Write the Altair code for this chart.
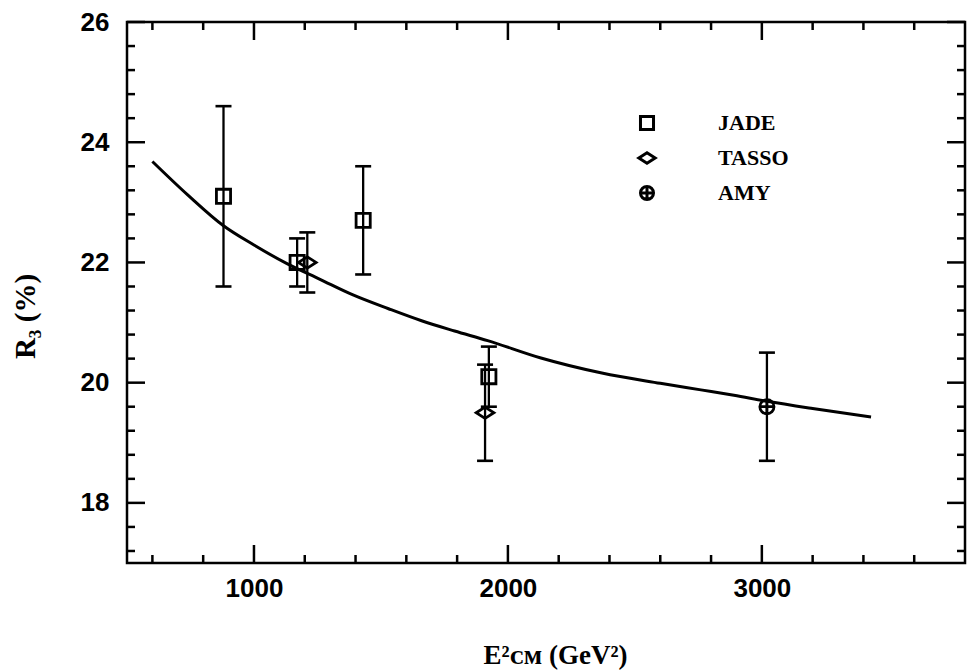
import altair as alt
import pandas as pd

# Curve
curve_x = [600, 740, 880, 1000, 1130, 1260, 1390, 1530, 1660, 1790, 1920, 2130, 2370, 2600, 2760, 2890, 3020, 3200, 3430]
curve_y = [23.68, 23.12, 22.61, 22.29, 21.98, 21.72, 21.46, 21.23, 21.03, 20.86, 20.70, 20.41, 20.16, 19.99, 19.88, 19.79, 19.69, 19.57, 19.43]

# Measurements
exp_names = ["JADE", "JADE", "TASSO", "JADE", "JADE", "TASSO", "AMY"]
exp_x = [880, 1170, 1210, 1430, 1925, 1910, 3020]
exp_y = [23.1, 22.0, 22.0, 22.7, 20.1, 19.5, 19.6]
exp_lo = [21.6, 21.6, 21.5, 21.8, 19.6, 18.7, 18.7]
exp_hi = [24.6, 22.4, 22.5, 23.6, 20.6, 20.3, 20.5]

legend_order = ["JADE", "TASSO", "AMY"]

x_major = [1000, 2000, 3000]
x_minor = [600, 800, 1200, 1400, 1600, 1800, 2200, 2400, 2600, 2800, 3200, 3400, 3600]
y_major = [18, 20, 22, 24, 26]
y_minor = [17.2, 17.6, 18.4, 18.8, 19.2, 19.6, 20.4, 20.8, 21.2, 21.6,
           22.4, 22.8, 23.2, 23.6, 24.4, 24.8, 25.2, 25.6]

W, H = 838, 541
MAJ, MIN = 18, 8

curve = pd.DataFrame({"x": curve_x, "y": curve_y})
pts = pd.DataFrame({"exp": exp_names, "x": exp_x, "y": exp_y, "lo": exp_lo, "hi": exp_hi})
xmaj = pd.DataFrame({"x": x_major})
xmin = pd.DataFrame({"x": x_minor})
ymaj = pd.DataFrame({"y": y_major})
ymin = pd.DataFrame({"y": y_minor})

xs = alt.Scale(domain=[500, 3800], nice=False, zero=False)
ys = alt.Scale(domain=[17, 26], nice=False, zero=False)

TICK_FONT = "Liberation Sans"
SERIF = "Liberation Serif"

# main curve with labelled axes
line = alt.Chart(curve).mark_line(color="black", strokeWidth=3, interpolate="monotone").encode(
    x=alt.X("x:Q", scale=xs, axis=alt.Axis(
        orient="bottom", values=x_major, format="d", ticks=False, tickSize=0, domain=False, grid=False,
        labelFont=TICK_FONT, labelFontSize=26, labelFontWeight="bold", labelColor="black",
        labelPadding=12,
        title="E²ᴄᴍ (GeV²)", titleFont=SERIF, titleFontSize=27, titleFontWeight="bold",
        titleColor="black", titleX=428, titleY=100, titleAlign="center", titleBaseline="alphabetic")),
    y=alt.Y("y:Q", scale=ys, axis=alt.Axis(
        orient="left", values=y_major, format="d", ticks=False, tickSize=0, domain=False, grid=False,
        labelFont=TICK_FONT, labelFontSize=26, labelFontWeight="bold", labelColor="black",
        labelPadding=18,
        title="R₃ (%)", titleFont=SERIF, titleFontSize=29, titleFontWeight="bold",
        titleColor="black", titleX=-102, titleY=294, titleAngle=-90, titleAlign="center",
        titleBaseline="middle")),
)


def xticks(df, y0, y1):
    return alt.Chart(df).mark_rule(color="black", strokeWidth=2.5).encode(
        x=alt.X("x:Q", scale=xs),
        y=alt.value(y0), y2=alt.value(y1),
    )


def yticks(df, x0, x1):
    return alt.Chart(df).mark_rule(color="black", strokeWidth=2.5).encode(
        y=alt.Y("y:Q", scale=ys),
        x=alt.value(x0), x2=alt.value(x1),
    )


ticks = [
    xticks(xmaj, H, H - MAJ), xticks(xmin, H, H - MIN),
    xticks(xmaj, 0, MAJ), xticks(xmin, 0, MIN),
    yticks(ymaj, 0, MAJ), yticks(ymin, 0, MIN),
    yticks(ymaj, W, W - MAJ), yticks(ymin, W, W - MIN),
]

bars = alt.Chart(pts).mark_rule(color="black", strokeWidth=2.3, opacity=1).encode(
    x=alt.X("x:Q", scale=xs),
    y=alt.Y("lo:Q", scale=ys),
    y2="hi:Q",
)
cap_lo = alt.Chart(pts).mark_tick(color="black", orient="horizontal", size=16, thickness=2.6, opacity=1).encode(
    x=alt.X("x:Q", scale=xs),
    y=alt.Y("lo:Q", scale=ys),
)
cap_hi = alt.Chart(pts).mark_tick(color="black", orient="horizontal", size=16, thickness=2.6, opacity=1).encode(
    x=alt.X("x:Q", scale=xs),
    y=alt.Y("hi:Q", scale=ys),
)

square_path = "square"
diamond_path = "M-1.25,0L0,-0.8L1.25,0L0,0.8Z"
amy_path = "M-1,0A1,1,0,1,1,1,0A1,1,0,1,1,-1,0ZM-1,0L1,0M0,-1L0,1"

points = alt.Chart(pts).mark_point(filled=False, color="black", strokeWidth=2.8, size=200, opacity=1).encode(
    x=alt.X("x:Q", scale=xs),
    y=alt.Y("y:Q", scale=ys),
    shape=alt.Shape("exp:N", scale=alt.Scale(domain=legend_order,
                                              range=[square_path, diamond_path, amy_path]),
                    legend=alt.Legend(orient="none", legendX=509, legendY=90, title=None,
                                      symbolSize=170, symbolStrokeColor="black",
                                      symbolStrokeWidth=3, symbolFillColor="white",
                                      labelFont=SERIF, labelFontSize=22, labelFontWeight="bold",
                                      labelColor="black", labelOffset=60, rowPadding=10,
                                      padding=0)),
)

chart = alt.layer(line, *ticks, bars, cap_lo, cap_hi, points).properties(
    width=W, height=H,
    autosize=alt.AutoSizeParams(type="none"),
    padding={"left": 127, "top": 22, "right": 2, "bottom": 108},
    background="white",
).configure_view(stroke="black", strokeWidth=2.5).configure_axis(grid=False)

chart.save("out.html", embed_options={"renderer": "svg", "actions": False})
